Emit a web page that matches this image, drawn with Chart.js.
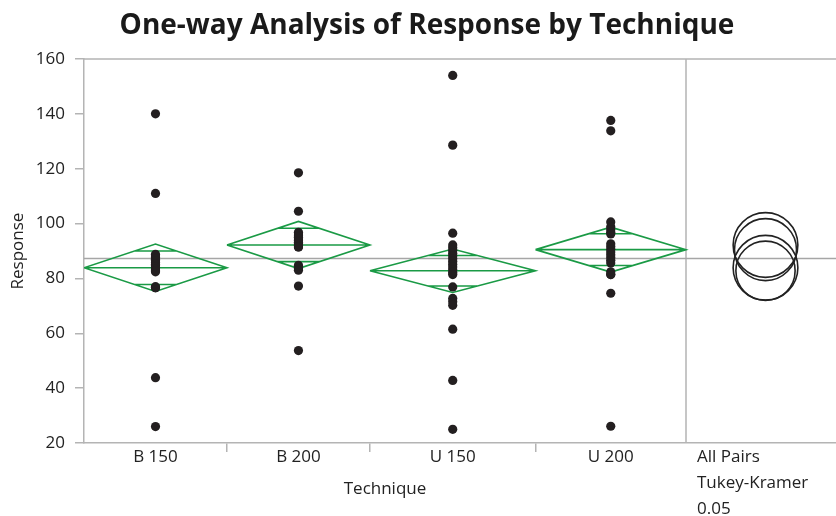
<!DOCTYPE html>
<html>
<head>
<meta charset="utf-8">
<script src="https://cdn.jsdelivr.net/npm/chart.js@4"></script>
<style>
  html, body { margin: 0; padding: 0; background: #fff; }
  #wrap { width: 836px; height: 516px; }
</style>
</head>
<body>
<div id="wrap"><canvas id="chart" width="836" height="516"></canvas></div>
<script>
const categories = ['B 150', 'B 200', 'U 150', 'U 200'];

// response values per technique
const b150 = [140, 111, 88.8, 88.2, 87.6, 87, 86.4, 85.8, 85.2, 84.6, 84, 83.4, 82.8, 82.4, 77, 76.6, 76.6, 43.8, 26];
const b200 = [118.5, 104.5, 96.8, 96.2, 95.6, 95, 94.4, 93.8, 93.2, 92.6, 92, 91.5, 91.5, 84.8, 84.2, 83.6, 83, 77.2, 53.7];
const u150 = [154, 128.6, 96.5, 92.2, 91.2, 90.2, 89.2, 88.2, 87.2, 86.2, 85.2, 84.2, 83.2, 82.2, 81.4, 76.9, 72.7, 71.5, 70.2, 61.5, 42.8, 25];
const u200 = [137.6, 133.8, 100.6, 98.8, 97.8, 96.8, 96.2, 92.6, 91.6, 90.6, 89.6, 88.6, 87.6, 86.6, 85.6, 82.4, 81.4, 81.4, 74.6, 26.1];

// means diamonds and comparison circles
const groupMeans = [83.9, 92.2, 82.8, 90.5];
const ciHalfWidths = [8.65, 8.6, 7.9, 8.2];
const circleRadii = [11.8, 11.8, 10.8, 11.3];
const grandMean = 87.3;

const panelLabels = ['All Pairs', 'Tukey-Kramer', '0.05'];

const groups = [b150, b200, u150, u200];
const green = '#1a9a45';
const frameGray = '#b4b4b4';
const textColor = '#222';

// category widths proportional to group size, like JMP does
let acc = 0;
const bounds = groups.map(g => {
    let l = acc;
    acc += g.length;
    return { l: l, r: acc, c: (l + acc) / 2 };
});
const total = acc;
const panelUnits = total * 150 / 602;   // circles panel to the right
const centers = bounds.map(b => b.c);
const innerTicks = bounds.slice(0, -1).map(b => b.r);

let pointData = [];
groups.forEach((g, i) => g.forEach(v => pointData.push({ x: centers[i], y: v })));

const diamondSets = bounds.map((b, i) => {
    let m = groupMeans[i], h = ciHalfWidths[i],
        k = h / Math.SQRT2,
        hw = (b.r - b.l) / 2 * (1 - 1 / Math.SQRT2);
    return {
        data: [
            { x: b.l, y: m }, { x: b.c, y: m + h }, { x: b.r, y: m }, { x: b.c, y: m - h }, { x: b.l, y: m },
            { x: b.c, y: null },
            { x: b.l, y: m }, { x: b.r, y: m },
            { x: b.c, y: null },
            { x: b.c - hw, y: m + k }, { x: b.c + hw, y: m + k },
            { x: b.c, y: null },
            { x: b.c - hw, y: m - k }, { x: b.c + hw, y: m - k }
        ],
        showLine: true,
        spanGaps: false,
        borderColor: green,
        borderWidth: 1.6,
        pointRadius: 0,
        pointHoverRadius: 0
    };
});

const framePlugin = {
    id: 'frame',
    beforeDatasetsDraw(chart) {
        let { ctx, chartArea: a } = chart,
            split = chart.scales.x.getPixelForValue(total);
        ctx.save();
        ctx.strokeStyle = frameGray;
        ctx.lineWidth = 1.5;
        ctx.beginPath();
        ctx.moveTo(a.left, a.top);
        ctx.lineTo(a.right, a.top);
        ctx.moveTo(split, a.top);
        ctx.lineTo(split, a.bottom);
        ctx.stroke();
        ctx.restore();
    },
    afterDraw(chart) {
        let { ctx, chartArea: a } = chart,
            x = chart.scales.x,
            split = x.getPixelForValue(total);
        ctx.save();
        ctx.font = '17px "Open Sans"';
        ctx.fillStyle = textColor;
        ctx.textBaseline = 'middle';
        ctx.textAlign = 'center';
        ctx.fillText('Technique', (x.getPixelForValue(0) + split) / 2, 489);
        ctx.textAlign = 'left';
        panelLabels.forEach((t, i) => ctx.fillText(t, split + 11, a.bottom + 14 + i * 26));
        ctx.restore();
    }
};

new Chart(document.getElementById('chart'), {
    type: 'scatter',
    data: {
        datasets: [
            {
                data: pointData,
                backgroundColor: '#231f20',
                borderWidth: 0,
                pointRadius: 4.6,
                pointHoverRadius: 4.6
            },
            {
                data: groupMeans.map(m => ({ x: total + panelUnits * 0.53, y: m })),
                backgroundColor: 'transparent',
                borderColor: '#222',
                borderWidth: 1.6,
                pointRadius: ctx => {
                    let y = ctx.chart.scales.y, m = groupMeans[ctx.dataIndex];
                    return Math.abs(y.getPixelForValue(m - circleRadii[ctx.dataIndex]) - y.getPixelForValue(m));
                }
            },
            ...diamondSets,
            {
                data: [{ x: 0, y: grandMean }, { x: total + panelUnits, y: grandMean }],
                showLine: true,
                borderColor: '#a6a6a6',
                borderWidth: 1.5,
                pointRadius: 0
            }
        ]
    },
    options: {
        responsive: false,
        animation: false,
        layout: { autoPadding: false, padding: { left: 18, right: 0, top: 0, bottom: 0 } },
        plugins: {
            legend: { display: false },
            tooltip: { enabled: false },
            title: {
                display: true,
                text: 'One-way Analysis of Response by Technique',
                color: '#1a1a1a',
                font: { family: 'Open Sans', size: 28, weight: 'bold', lineHeight: 1.2 },
                padding: { top: 9, bottom: 16.4 }
            }
        },
        scales: {
            x: {
                type: 'linear',
                min: 0,
                max: total + panelUnits,
                afterBuildTicks: scale => {
                    scale.ticks = [0, ...innerTicks, ...centers, total].sort((a, b) => a - b).map(v => ({ value: v }));
                },
                afterFit: scale => {
                    scale.height = 73;
                    scale.paddingLeft = 0;
                    scale.paddingRight = 0;
                },
                ticks: {
                    autoSkip: false,
                    maxRotation: 0,
                    padding: -5,
                    color: textColor,
                    font: { family: 'Open Sans', size: 17 },
                    callback: value => {
                        let i = centers.indexOf(value);
                        return i >= 0 ? categories[i] : '';
                    }
                },
                grid: {
                    drawOnChartArea: false,
                    drawTicks: true,
                    tickLength: 9,
                    lineWidth: 1.5,
                    color: ctx => (ctx.tick && innerTicks.includes(ctx.tick.value)) ? frameGray : 'transparent'
                },
                border: { color: frameGray, width: 1.5 }
            },
            y: {
                min: 20,
                max: 160,
                afterFit: scale => { scale.width = 66; },
                ticks: {
                    stepSize: 20,
                    padding: 10,
                    color: textColor,
                    font: { family: 'Open Sans', size: 17 }
                },
                grid: {
                    drawOnChartArea: false,
                    drawTicks: true,
                    tickLength: 9,
                    lineWidth: 1.5,
                    color: frameGray
                },
                border: { color: frameGray, width: 1.5 },
                title: {
                    display: true,
                    text: 'Response',
                    color: textColor,
                    font: { family: 'Open Sans', size: 17 },
                    padding: { top: -10, bottom: 0 }
                }
            }
        }
    },
    plugins: [framePlugin]
});
</script>
</body>
</html>
